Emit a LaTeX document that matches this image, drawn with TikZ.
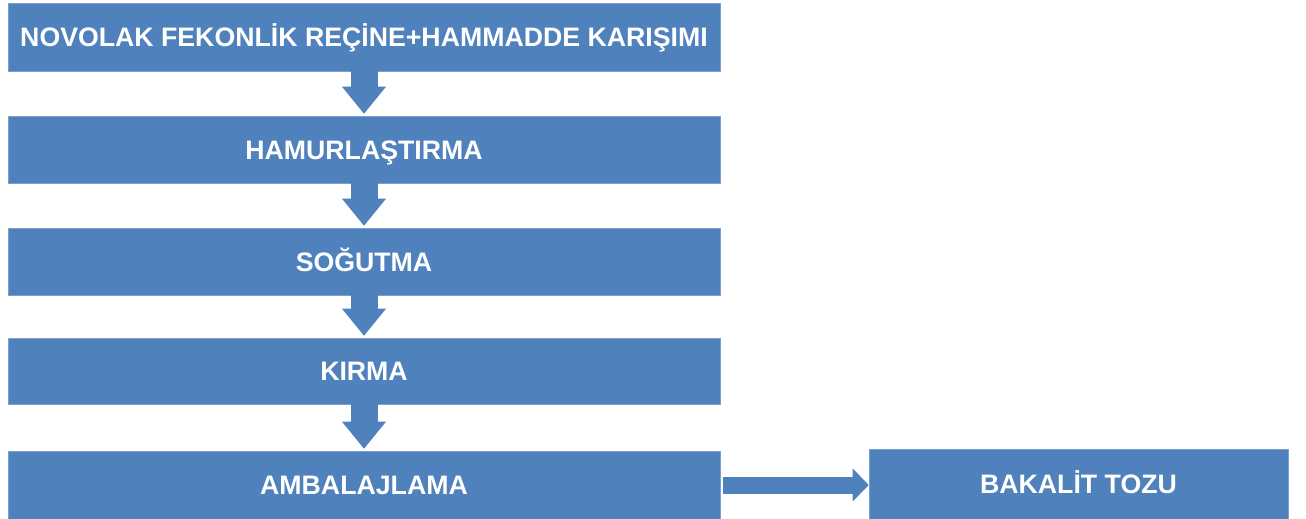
\documentclass[tikz,border=0pt]{standalone}
\usepackage{fontspec}
\setmainfont{Liberation Sans}
\usetikzlibrary{arrows.meta}
\definecolor{boxblue}{HTML}{4F81BD}
\definecolor{edgeblue}{HTML}{7A9FD2}
\tikzset{
  stepbox/.style={fill=boxblue, draw=edgeblue, line width=0.6pt, inner sep=0pt,
    font=\fontsize{26.7}{30}\selectfont\bfseries, text=white, anchor=center,
    text height=19.1pt, text depth=0pt},
  downarrow/.style={boxblue, line width=27pt,
    -{Triangle[width=44pt,length=27pt,line width=0pt]}, shorten >=2pt},
  rightarrow/.style={boxblue, line width=17pt,
    -{Triangle[width=33pt,length=16pt,line width=0pt]}, shorten <=3pt}
}
\begin{document}
\begin{tikzpicture}[x=1pt,y=-1pt]
\useasboundingbox (0,0) rectangle (1306,519);
\node[stepbox, minimum width=712pt, minimum height=68pt] (b1) at (364,37) {NOVOLAK FEKONLİK REÇİNE+HAMMADDE KARIŞIMI};
\node[stepbox, minimum width=712pt, minimum height=67pt] (b2) at (364,149.5) {HAMURLAŞTIRMA};
\node[stepbox, minimum width=712pt, minimum height=67pt] (b3) at (364,261.5) {SOĞUTMA};
\node[stepbox, minimum width=712pt, minimum height=66pt] (b4) at (364,371) {KIRMA};
\node[stepbox, minimum width=712pt, minimum height=68pt] (b5) at (364,485) {AMBALAJLAMA};
\node[stepbox, minimum width=419pt, minimum height=70pt] (b6) at (1078.5,484) {BAKALİT TOZU};
\draw[downarrow] (b1.south) -- (b2.north);
\draw[downarrow] (b2.south) -- (b3.north);
\draw[downarrow] (b3.south) -- (b4.north);
\draw[downarrow] (b4.south) -- (b5.north);
\draw[rightarrow] (b5.east) -- (b5.east -| b6.west);
\end{tikzpicture}
\end{document}
